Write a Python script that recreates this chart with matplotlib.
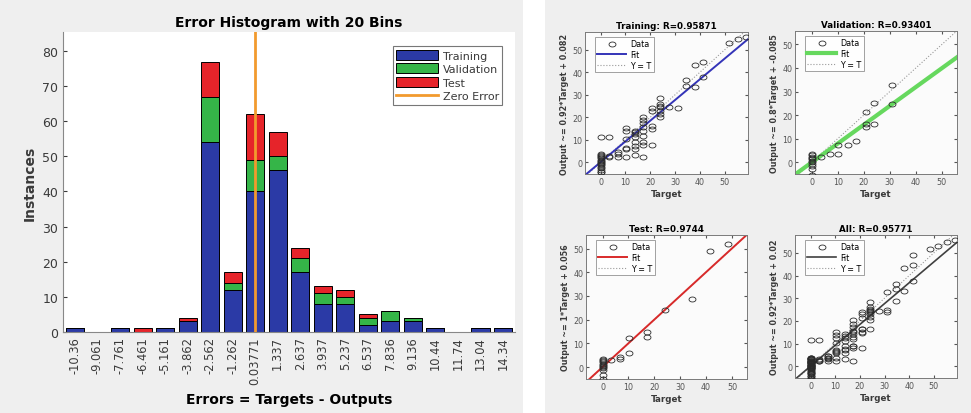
import matplotlib
matplotlib.use('Agg')

import numpy as np
import matplotlib.pyplot as plt
from matplotlib.path import Path
from matplotlib.patches import Patch, Rectangle
from matplotlib.lines import Line2D

plt.rcParams['font.family'] = ['DejaVu Sans']

# Histogram of errors (20 bins)
bin_centers = [-10.36, -9.061, -7.761, -6.461, -5.161, -3.862, -2.562, -1.262,
               0.03771, 1.337, 2.637, 3.937, 5.237, 6.537, 7.836, 9.136,
               10.44, 11.74, 13.04, 14.34]
bin_labels = ["-10.36", "-9.061", "-7.761", "-6.461", "-5.161", "-3.862",
              "-2.562", "-1.262", "0.03771", "1.337", "2.637", "3.937",
              "5.237", "6.537", "7.836", "9.136", "10.44", "11.74", "13.04",
              "14.34"]
train_counts = [1, 0, 1, 0, 1, 3, 54, 12, 40, 46, 17, 8, 8, 2, 3, 3, 1, 0, 1, 1]
val_counts   = [0, 0, 0, 0, 0, 0, 13, 2, 9, 4, 4, 3, 2, 2, 3, 1, 0, 0, 0, 0]
test_counts  = [0, 0, 0, 1, 0, 1, 10, 3, 13, 7, 3, 2, 2, 1, 0, 0, 0, 0, 0, 0]

# Regression data (targets / outputs)
train_t = [51.7, 55.2, 58.6, 37.9, 41.4, 41.4, 34.5, 34.5, 37.9,
           24.1, 24.1, 24.1, 24.1, 24.1, 24.1, 24.1, 27.6, 31.0,
           20.7, 20.7, 20.7, 20.7, 20.7,
           17.2, 17.2, 17.2, 17.2, 17.2, 17.2, 17.2, 17.2, 17.2,
           13.8, 13.8, 13.8, 13.8, 13.8, 13.8, 13.8, 13.8,
           10.3, 10.3, 10.3, 10.3, 10.3, 10.3,
           6.9, 6.9, 6.9, 3.4, 3.4, 3.4, 0.0,
           0, 0, 0, 0, 0, 0, 0, 0, 0, 0, 0, 0, 0, 0, 0, 0]
train_o = [53.1, 54.9, 55.6, 43.3, 44.5, 37.8, 36.4, 34.1, 33.4,
           28.5, 26.0, 25.0, 24.5, 23.0, 21.5, 20.3, 24.5, 24.0,
           24.0, 23.0, 16.3, 14.8, 7.9,
           20.3, 18.8, 17.4, 15.6, 14.1, 11.9, 8.9, 7.9, 2.5,
           14.1, 13.5, 12.6, 11.1, 9.0, 7.4, 5.9, 3.4,
           15.3, 13.8, 10.4, 6.5, 5.9, 2.2,
           4.5, 3.5, 2.2, 11.4, 3.0, 2.2, 11.4,
           3.7, 3.2, 2.7, 2.2, 1.7, 1.2, 0.7, 0.2, -0.3, -0.8, -1.3, -2.0,
           -2.7, -3.4, -4.1, -4.5]

val_t = [31.0, 31.0, 24.1, 24.1, 20.7, 20.7, 20.7, 17.2, 13.8, 10.3, 10.3,
         6.9, 3.4, 0, 0, 0, 0, 0, 0, 0, 0, 0, 0, 0]
val_o = [32.9, 24.7, 25.3, 16.4, 21.4, 16.4, 15.0, 9.0, 7.1, 7.1, 3.6,
         3.6, 2.1, 3.6, 3.0, 2.4, 1.8, 1.2, 0.6, 0.0, -0.6, -1.5, -3.0, -5.5]

test_t = [48.3, 41.4, 34.5, 24.1, 17.2, 17.2, 10.3, 10.3, 6.9, 6.9, 3.4,
          0, 0, 0, 0, 0, 0, 0, 0, 0, 0, 0, 0]
test_o = [51.9, 49.0, 28.6, 24.0, 15.0, 12.9, 12.4, 6.1, 4.3, 3.3, 2.9,
          3.6, 3.0, 2.5, 2.0, 1.5, 1.0, 0.5, 0.0, -0.5, -1.0, -3.2, -5.0]

all_t = train_t + val_t + test_t
all_o = train_o + val_o + test_o

# name, data, slope, intercept, R, fit colour/width, limits, ylabel
panels = [
    ("Training", train_t, train_o, 0.92, 0.082, "0.95871", "#3434b8", 1.4,
     (-6.3, 59.4), (-5.2, 57.9), "Output ~= 0.92*Target + 0.082"),
    ("Validation", val_t, val_o, 0.8, -0.085, "0.93401", "#66d85e", 3.0,
     (-6.4, 55.8), (-5.0, 55.7), "Output ~= 0.8*Target + -0.085"),
    ("Test", test_t, test_o, 1.0, 0.056, "0.9744", "#d82a2a", 1.4,
     (-6.4, 55.8), (-5.0, 55.7), "Output ~= 1*Target + 0.056"),
    ("All", all_t, all_o, 0.92, 0.02, "0.95771", "#404040", 1.2,
     (-6.3, 59.4), (-5.2, 57.9), "Output ~= 0.92*Target + 0.02"),
]

BLUE, GREEN, RED, ORANGE = "#2b3aa6", "#35b548", "#e6242a", "#f29a2e"
TXT = "#3a3a3a"

fig = plt.figure(figsize=(9.71, 4.14), dpi=100, facecolor="#efefef")
fig.patches.append(Rectangle((523 / 971, 0), 22 / 971, 1, transform=fig.transFigure,
                             facecolor="white", edgecolor="none", zorder=0))

# Error histogram
ax = fig.add_axes([63 / 971, 81 / 414, 452 / 971, 300 / 414])
x = np.array(bin_centers)
tr = np.array(train_counts)
va = np.array(val_counts)
te = np.array(test_counts)
w = 1.3 * 0.8
ax.bar(x, tr, width=w, color=BLUE, edgecolor="black", linewidth=0.7)
ax.bar(x, va, width=w, bottom=tr, color=GREEN, edgecolor="black", linewidth=0.7)
ax.bar(x, te, width=w, bottom=tr + va, color=RED, edgecolor="black", linewidth=0.7)
ax.axvline(0, color=ORANGE, linewidth=2.0, zorder=3)
ax.set_xlim(-11.05, 15.03)
ax.set_ylim(0, 85.4)
ax.set_xticks(x)
ax.set_xticklabels(bin_labels, rotation=90, fontsize=8.3, color=TXT)
ax.set_yticks(range(0, 81, 10))
ax.tick_params(axis='y', labelsize=9, colors=TXT, direction='in', length=3)
ax.tick_params(axis='x', length=0, pad=3)
for s in ['top', 'right']:
    ax.spines[s].set_visible(False)
for s in ['left', 'bottom']:
    ax.spines[s].set_color("#888888")
ax.set_title("Error Histogram with 20 Bins", fontsize=10, fontweight='bold', pad=4)
ax.set_xlabel("Errors = Targets - Outputs", fontsize=10, fontweight='bold', labelpad=6)
ax.set_ylabel("Instances", fontsize=10, fontweight='bold', color=TXT, labelpad=4)
handles = [Patch(facecolor=BLUE, edgecolor="black", linewidth=0.7),
           Patch(facecolor=GREEN, edgecolor="black", linewidth=0.7),
           Patch(facecolor=RED, edgecolor="black", linewidth=0.7),
           Line2D([], [], color=ORANGE, linewidth=2.0)]
leg = ax.legend(handles, ["Training", "Validation", "Test", "Zero Error"],
                loc='upper right', bbox_to_anchor=(0.972, 0.952), fontsize=8,
                fancybox=False, edgecolor="#555555", handlelength=3.8,
                handleheight=1.0, labelspacing=0.25, borderpad=0.3,
                handletextpad=0.4, borderaxespad=0)
leg.get_frame().set_linewidth(0.8)
for t in leg.get_texts():
    t.set_color(TXT)

# Regression plots
th = np.linspace(0, 2 * np.pi, 41)
ell = Path(np.column_stack([1.4 * np.cos(th), np.sin(th)]))

boxes = [[585 / 971, 239 / 414, 163 / 971, 142 / 414],
         [795 / 971, 239 / 414, 162 / 971, 143 / 414],
         [586 / 971, 34 / 414, 161 / 971, 144 / 414],
         [795 / 971, 35 / 414, 162 / 971, 143 / 414]]

for box, (name, t, o, m, b, r, col, lw, xl, yl, ylab) in zip(boxes, panels):
    a = fig.add_axes(box)
    a.set_facecolor("#fbfbfb")
    a.plot(t, o, linestyle='none', marker=ell, markersize=5.0,
           markerfacecolor='none', markeredgecolor="#2a2a2a",
           markeredgewidth=0.6, zorder=3)
    xs = np.array(xl)
    a.plot(xs, m * xs + b, color=col, linewidth=lw, zorder=2)
    a.plot(xs, xs, color="#9a9a9a", linestyle=':', linewidth=0.8, zorder=1)
    a.set_xlim(xl)
    a.set_ylim(yl)
    a.set_xticks(range(0, 51, 10))
    a.set_yticks(range(0, 51, 10))
    a.tick_params(labelsize=5.8, colors="#555555", direction='in', length=2,
                  pad=2, top=True, right=True)
    for s in a.spines.values():
        s.set_color("#7a7a7a")
        s.set_linewidth(0.7)
    a.set_title(f"{name}: R={r}", fontsize=6.3, fontweight='bold', pad=3)
    a.set_xlabel("Target", fontsize=6.3, fontweight='bold', color=TXT, labelpad=2)
    a.set_ylabel(ylab, fontsize=5.8, fontweight='bold', color=TXT, labelpad=2)
    lh = [Line2D([], [], linestyle='none', marker=ell, markersize=5.0,
                 markerfacecolor='none', markeredgecolor="#2a2a2a",
                 markeredgewidth=0.6),
          Line2D([], [], color=col, linewidth=lw),
          Line2D([], [], color="#9a9a9a", linestyle=':', linewidth=0.8)]
    lg = a.legend(lh, ["Data", "Fit", "Y = T"], loc='upper left',
                  bbox_to_anchor=(0.06, 0.965), fontsize=5.8, fancybox=False,
                  edgecolor="#777777", handlelength=3.6, labelspacing=0.2,
                  borderpad=0.3, handletextpad=0.5, borderaxespad=0)
    lg.get_frame().set_linewidth(0.6)

fig.savefig("out.png", dpi=100, facecolor=fig.get_facecolor())
